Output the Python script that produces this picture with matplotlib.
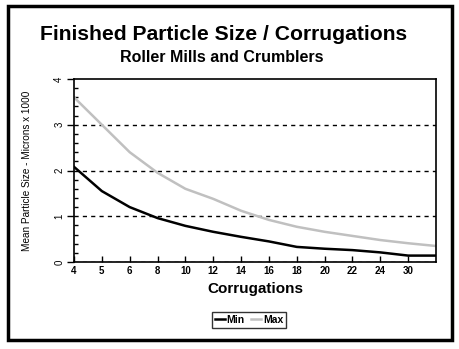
import numpy as np
import matplotlib
matplotlib.use('Agg')
import matplotlib.pyplot as plt
from matplotlib.patches import Rectangle
from matplotlib.ticker import MultipleLocator

plt.rcParams['font.family'] = ['Liberation Sans', 'DejaVu Sans']

# Datos
corrugations = ['4', '5', '6', '8', '10', '12', '14', '16', '18', '20', '22', '24', '30']
size_min = [2.08, 1.55, 1.2, 0.96, 0.79, 0.66, 0.55, 0.45, 0.33, 0.29, 0.26, 0.21, 0.14, 0.14]
size_max = [3.6, 3.0, 2.4, 1.95, 1.6, 1.38, 1.12, 0.92, 0.77, 0.66, 0.57, 0.48, 0.41, 0.35]

fig = plt.figure(figsize=(4.59, 3.49), dpi=100)
ax = fig.add_axes([74/459, 1-262/349, (436-74)/459, (262-79)/349])

x = np.arange(len(size_min))
ax.plot(x, size_min, color='black', lw=1.8, label='Min')
ax.plot(x, size_max, color='#c0c0c0', lw=1.8, label='Max')

ax.set_xlim(0, len(size_min) - 1)
ax.set_ylim(0, 4)
ax.set_xticks(np.arange(len(corrugations)))
ax.set_xticklabels(corrugations, fontsize=7, fontweight='bold')
ax.set_yticks([0, 1, 2, 3, 4])
ax.set_yticklabels(['0', '1', '2', '3', '4'], fontsize=7, rotation=90, va='center')
ax.yaxis.set_minor_locator(MultipleLocator(0.2))
ax.tick_params(axis='x', direction='in', length=4, width=1, pad=3)
ax.tick_params(axis='y', which='major', direction='out', length=5, width=1, pad=2)
ax.tick_params(axis='y', which='minor', direction='in', length=3, width=1)
for s in ax.spines.values():
    s.set_linewidth(1.2)

for yv in [0, 1, 2, 3]:
    ax.axhline(yv, color='black', lw=1, ls=(0, (3, 3)), zorder=1)

ax.set_xlabel('Corrugations', fontsize=11, fontweight='bold', labelpad=4)
ax.set_ylabel('Mean Particle Size - Microns x 1000', fontsize=7.2, labelpad=16)

fig.text(224/459, 1-35/349, 'Finished Particle Size / Corrugations', ha='center', va='center',
         fontsize=15.2, fontweight='bold')
fig.text(222/459, 1-57/349, 'Roller Mills and Crumblers', ha='center', va='center',
         fontsize=11.5, fontweight='bold')

leg = fig.legend(loc='center', bbox_to_anchor=(249/459, 1-320/349), ncol=2,
                 prop={'weight': 'bold', 'size': 7.5}, frameon=True, fancybox=False,
                 handlelength=1.0, handletextpad=0.15, columnspacing=0.6,
                 borderpad=0.25, borderaxespad=0)
leg.get_frame().set_edgecolor('black')
leg.get_frame().set_linewidth(1)

fig.patches.append(Rectangle((8/459, 1-340/349), (452-8)/459, (340-6)/349,
                             transform=fig.transFigure, fill=False, lw=2.5, ec='black'))

fig.savefig('out.png', dpi=100)
